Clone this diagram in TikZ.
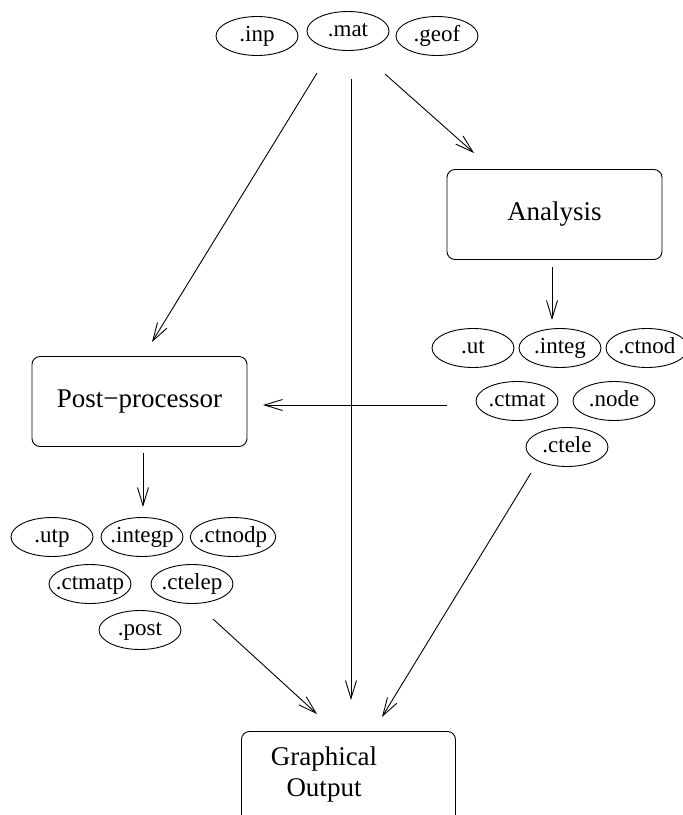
\documentclass[tikz,border=0pt]{standalone}
\usepackage{fontspec}
\setmainfont{Liberation Serif}
\usetikzlibrary{shapes.geometric,arrows.meta}

\begin{document}
\begin{tikzpicture}[x=1pt,y=-1pt,line width=0.9pt,
    >={Straight Barb[length=18pt,width=11pt]},
    file node/.style={ellipse,draw,font=\fontsize{23}{25}\selectfont,inner xsep=-4pt,inner ysep=0pt,text height=15pt,text depth=5pt,minimum width=82pt,minimum height=39pt},
    prog node/.style={rectangle,draw,rounded corners=8pt,font=\fontsize{27}{31}\selectfont,minimum width=215pt,minimum height=90pt}]
                \useasboundingbox (0,0) rectangle (683,815);

                % input files
                \node[file node] at (257, 36) (inp) {.inp};
                \node[file node] at (348, 31) (mat) {.mat};
                \node[file node] at (437, 36) (geof) {.geof};

                % programs
                \node[prog node] at (554.5, 214.5) (anal) {Analysis};
                \node[prog node] at (139.5, 401.5) (post) {Post−processor};
                \node[prog node, anchor=north west, minimum width=214pt, minimum height=110pt] at (241, 731) (gout) {};
                \node[font=\fontsize{27}{31}\selectfont, align=center] at (324, 774) (goutlbl) {Graphical\\Output};

                % result files of the analysis
                \node[file node] at (473, 348) (ut) {.ut};
                \node[file node] at (560, 348) (integ) {.integ};
                \node[file node] at (647, 348) (ctnod) {.ctnod};
                \node[file node] at (517, 401) (ctmat) {.ctmat};
                \node[file node] at (614, 401) (node) {.node};
                \node[file node] at (567, 447) (ctele) {.ctele};

                % files written by the post-processor
                \node[file node] at (52, 537) (utp) {.utp};
                \node[file node] at (142, 537) (integp) {.integp};
                \node[file node] at (233, 537) (ctnodp) {.ctnodp};
                \node[file node, inner xsep=-7pt] at (90, 584) (ctmatp) {.ctmatp};
                \node[file node] at (192, 584) (ctelep) {.ctelep};
                \node[file node] at (140, 630) (postf) {.post};

                % arrow ends
                \coordinate (mat-l) at (317, 73);
                \coordinate (mat-c) at (351, 79);
                \coordinate (mat-r) at (385, 74);
                \coordinate (post-in) at (152, 342);
                \coordinate (anal-in) at (474, 153);
                \coordinate (anal-out) at (552, 267);
                \coordinate (res-in) at (552, 320);
                \coordinate (res-out) at (447, 405);
                \coordinate (post-res) at (263, 405);
                \coordinate (post-out) at (143, 453);
                \coordinate (postf-in) at (143, 507);
                \coordinate (postf-out) at (213, 619);
                \coordinate (res-low) at (531, 473);
                \coordinate (gout-l) at (317, 714);
                \coordinate (gout-c) at (351, 700);
                \coordinate (gout-r) at (382, 717);

                \path[->] (mat-l) edge[] (post-in);
                \path[->] (mat-c) edge[] (gout-c);
                \path[->] (mat-r) edge[] (anal-in);
                \path[->] (anal-out) edge[] (res-in);
                \path[->] (res-out) edge[] (post-res);
                \path[->] (post-out) edge[] (postf-in);
                \path[->] (postf-out) edge[] (gout-l);
                \path[->] (res-low) edge[] (gout-r);
\end{tikzpicture}
\end{document}
